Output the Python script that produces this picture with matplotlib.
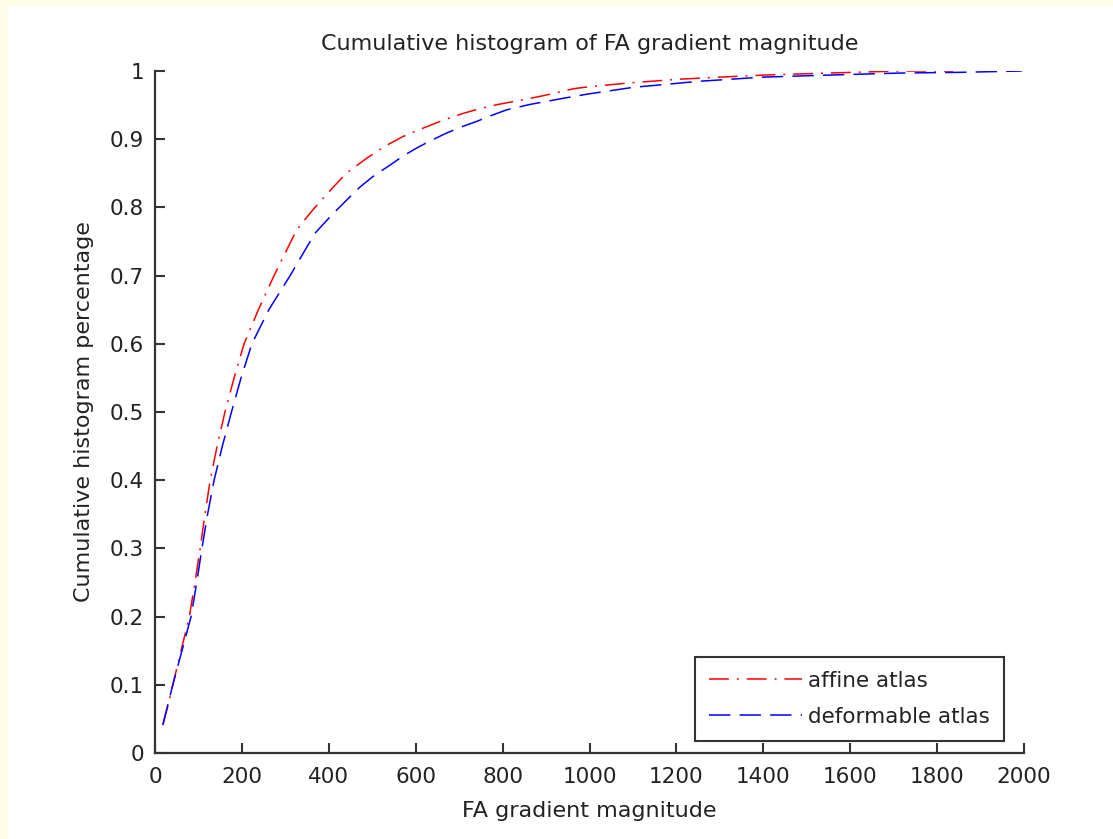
import numpy as np
import matplotlib.pyplot as plt
from matplotlib.patches import Rectangle

# 数据：累积直方图曲线
affine_x = [18, 30, 41, 60, 79, 92, 104, 115, 127, 143, 161, 182, 205, 238, 274,
            326, 364, 399, 440, 487, 530, 571, 620, 664, 705, 748, 790, 840, 880,
            924, 963, 1000, 1100, 1208, 1300, 1400, 1550, 1715, 1837]
affine_y = [0.041, 0.07, 0.1, 0.15, 0.2, 0.25, 0.3, 0.35, 0.4, 0.45, 0.5, 0.55,
            0.6, 0.65, 0.7, 0.767, 0.797, 0.822, 0.85, 0.872, 0.89, 0.904, 0.917,
            0.928, 0.937, 0.945, 0.951, 0.957, 0.962, 0.968, 0.974, 0.977, 0.983,
            0.988, 0.991, 0.994, 0.997, 1.0, 1.0]
deform_x = [18, 41, 62, 83, 96, 108, 121, 136, 155, 176, 198, 223, 262, 311, 368,
            407, 440, 472, 505, 541, 570, 602, 635, 671, 705, 740, 775, 809, 863,
            940, 994, 1100, 1254, 1399, 1550, 1715, 1850, 1995]
deform_y = [0.041, 0.1, 0.15, 0.2, 0.25, 0.3, 0.35, 0.4, 0.45, 0.5, 0.55, 0.6,
            0.65, 0.7, 0.762, 0.789, 0.81, 0.83, 0.847, 0.862, 0.875, 0.887, 0.898,
            0.909, 0.918, 0.926, 0.935, 0.943, 0.951, 0.96, 0.966, 0.976, 0.985,
            0.991, 0.994, 0.997, 0.998, 1.0]

x_ticks = np.arange(0, 2001, 200)
y_ticks = np.round(np.arange(0, 1.01, 0.1), 1)
y_labels = ['0'] + ['%.1f' % v for v in y_ticks[1:-1]] + ['1']

plt.rcParams['font.family'] = ['DejaVu Sans']
txt = '#222222'
fs = 15.5

fig = plt.figure(figsize=(11.13, 8.39), dpi=100)
fig.patch.set_facecolor('white')
# 黄色边框（左、上）
fig.patches.append(Rectangle((0, 0), 8 / 1113, 1, transform=fig.transFigure,
                             facecolor='#fffde6', edgecolor='none', zorder=-10))
fig.patches.append(Rectangle((0, 1 - 6 / 839), 1, 6 / 839, transform=fig.transFigure,
                             facecolor='#fffde6', edgecolor='none', zorder=-10))

ax = fig.add_axes([155 / 1113, 1 - 753 / 839, 869 / 1113, 682 / 839])
ax.set_facecolor('white')

ax.plot(affine_x, affine_y, color='red', lw=1.1, dashes=(13, 5.2, 1.3, 5.2), label='affine atlas')
ax.plot(deform_x, deform_y, color='blue', lw=1.1, dashes=(14, 6), label='deformable atlas')

ax.set_xlim(0, 2000)
ax.set_ylim(0, 1)
ax.set_xticks(x_ticks)
ax.set_yticks(y_ticks)
ax.set_yticklabels(y_labels)

for s in ['top', 'right']:
    ax.spines[s].set_visible(False)
for s in ['left', 'bottom']:
    ax.spines[s].set_linewidth(1.6)
    ax.spines[s].set_color('#333333')

ax.tick_params(direction='in', length=7, width=1.5, color='#333333',
               labelsize=fs, labelcolor=txt)
ax.tick_params(axis='x', pad=10)
ax.tick_params(axis='y', pad=8)

ax.set_title('Cumulative histogram of FA gradient magnitude', fontsize=16, color=txt, pad=15)
ax.set_xlabel('FA gradient magnitude', fontsize=16, color=txt, labelpad=10)
ax.set_ylabel('Cumulative histogram percentage', fontsize=16, color=txt, labelpad=11)

leg = ax.legend(loc='lower right', bbox_to_anchor=(0.977, 0.0176), borderaxespad=0,
                fontsize=fs, frameon=True, fancybox=False, handlelength=4.3,
                handletextpad=0.3, borderpad=0.65, labelspacing=0.75)
leg.get_frame().set_edgecolor('black')
leg.get_frame().set_linewidth(1.5)
for t in leg.get_texts():
    t.set_color(txt)

plt.savefig('out.png', dpi=100, facecolor=fig.get_facecolor())
